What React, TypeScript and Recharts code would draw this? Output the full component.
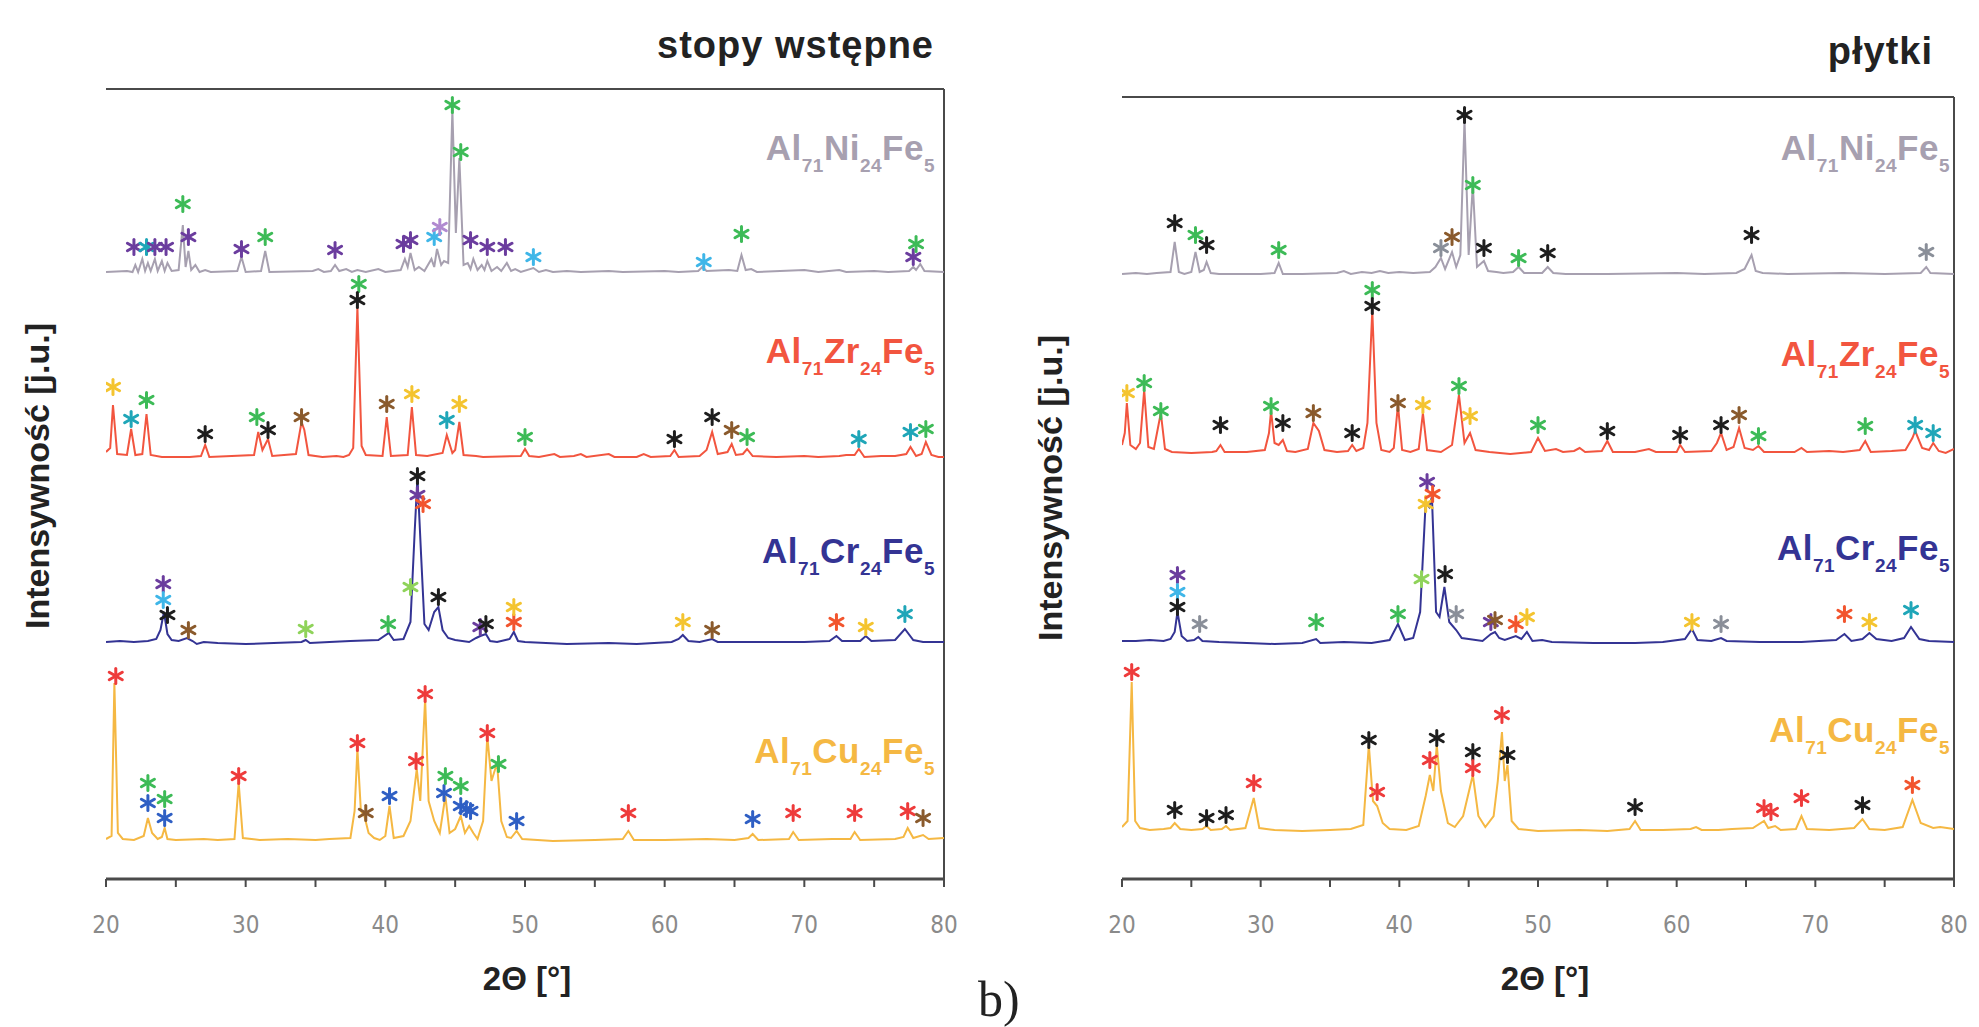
import { ComposedChart, Line, Scatter, XAxis, YAxis, ReferenceLine } from 'recharts'

type Pt = [number, number]
type Star = [number, number, string]

// kolory gwiazdek (fazy)
const STAR_COLORS: Record<string, string> = {
  green: '#3dbb57',
  lightgreen: '#8fd35a',
  purple: '#6b3d9e',
  lilac: '#b08ad0',
  cyan: '#3fb6e8',
  teal: '#1fa6b8',
  blue: '#2f5fc4',
  black: '#1e1e1e',
  yellow: '#f4c430',
  brown: '#8a5a2c',
  orange: '#f2552e',
  red: '#ee3b3b',
  grey: '#8a8f99',
}

const X_TICKS = [20, 25, 30, 35, 40, 45, 50, 55, 60, 65, 70, 75, 80]

// ---------- stopy wstępne ----------
const L_NI: Pt[] = [
  [20, 1], [21.5, 2], [21.9, 1], [22.1, 8], [22.3, 1], [22.6, 14], [22.8, 2], [23.0, 10], [23.2, 2], [23.5, 14],
  [23.7, 2], [24.0, 12], [24.2, 2], [24.4, 10], [24.7, 2], [25.2, 3], [25.5, 48], [25.7, 6], [25.9, 22], [26.1, 3],
  [26.4, 8], [26.7, 1], [27.1, 3], [27.5, 1], [29.4, 2], [29.7, 16], [30.0, 1], [31.1, 2], [31.4, 22], [31.7, 1],
  [34.8, 2], [35.2, 4], [35.6, 1], [36.1, 2], [36.4, 8], [36.7, 2], [37.2, 4], [37.6, 1], [38.0, 3], [38.6, 1],
  [39.5, 4], [40.0, 1], [41.1, 3], [41.4, 14], [41.6, 6], [41.8, 20], [42.1, 3], [42.4, 6], [42.8, 2], [43.3, 14],
  [43.5, 6], [43.7, 24], [44.0, 8], [44.2, 12], [44.5, 10], [44.8, 163], [45.05, 40], [45.3, 115], [45.6, 8], [45.9, 10],
  [46.1, 4], [46.3, 14], [46.6, 3], [46.9, 8], [47.1, 3], [47.3, 12], [47.6, 2], [48.0, 6], [48.3, 2], [48.7, 10],
  [49.0, 2], [49.3, 4], [49.7, 1], [50.6, 5], [51.0, 1], [51.5, 3], [52.0, 1], [53.0, 2], [54, 1], [56, 2],
  [57, 1], [60, 2], [61, 1], [62.4, 2], [62.7, 6], [63.0, 2], [64.6, 3], [65.2, 2], [65.5, 18], [65.8, 3],
  [66.2, 4], [66.6, 1], [70, 3], [71, 1], [72.5, 3], [73, 1], [75, 2], [76, 1], [77.5, 2], [77.8, 6],
  [78.0, 3], [78.3, 9], [78.6, 2], [80, 1],
]
const L_NI_STARS: Star[] = [
  [22.0, 26, 'purple'], [22.9, 26, 'teal'], [23.5, 26, 'purple'], [24.3, 26, 'purple'], [25.5, 69, 'green'],
  [25.9, 36, 'purple'], [29.7, 24, 'purple'], [31.4, 36, 'green'], [36.4, 23, 'purple'], [41.3, 29, 'purple'],
  [41.8, 33, 'purple'], [43.5, 36, 'cyan'], [43.9, 46, 'lilac'], [44.8, 168, 'green'], [45.4, 121, 'green'],
  [46.1, 33, 'purple'], [47.3, 26, 'purple'], [48.6, 26, 'purple'], [50.6, 16, 'cyan'], [62.8, 11, 'cyan'],
  [65.5, 39, 'green'], [77.8, 16, 'purple'], [78.0, 29, 'green'],
]

const L_ZR: Pt[] = [
  [20, 6], [20.3, 10], [20.5, 53], [20.8, 4], [21.5, 3], [21.8, 29], [22.1, 3], [22.6, 4], [22.9, 44], [23.2, 3],
  [24, 1], [26, 1], [26.8, 2], [27.1, 13], [27.4, 1], [29, 2], [30.6, 3], [30.9, 26], [31.2, 8], [31.6, 19],
  [31.9, 2], [33.6, 4], [34.0, 36], [34.2, 28], [34.5, 3], [35.5, 1], [36.5, 2], [37.0, 1], [37.4, 3], [37.7, 10],
  [38.0, 151], [38.3, 12], [38.6, 3], [39.8, 2], [40.1, 41], [40.4, 2], [41.6, 3], [41.9, 51], [42.2, 3], [43, 2],
  [44.1, 5], [44.4, 23], [44.8, 5], [45.0, 8], [45.3, 36], [45.6, 3], [46.5, 2], [47.0, 1], [49.7, 2], [50.0, 9],
  [50.3, 2], [51, 1], [52.1, 4], [52.5, 1], [53.5, 2], [54.0, 4], [54.4, 1], [56.0, 4], [56.4, 1], [58.0, 1],
  [58.5, 4], [59, 1], [60.4, 2], [60.7, 8], [61.0, 1], [62.5, 2], [63.0, 8], [63.4, 26], [63.8, 4], [64.5, 6],
  [64.8, 14], [65.1, 3], [65.6, 4], [65.9, 9], [66.3, 2], [68, 1], [70, 2], [71, 1], [72.5, 2], [73.0, 3],
  [73.6, 3], [73.9, 9], [74.3, 1], [75.5, 2], [76.5, 2], [77.3, 4], [77.6, 11], [78.0, 2], [78.4, 4], [78.7, 16],
  [79.1, 3], [79.6, 1], [80, 1],
]
const L_ZR_STARS: Star[] = [
  [20.5, 71, 'yellow'], [21.8, 39, 'teal'], [22.9, 58, 'green'], [27.1, 24, 'black'], [30.8, 41, 'green'],
  [31.6, 28, 'black'], [34.0, 41, 'brown'], [38.1, 174, 'green'], [38.0, 158, 'black'], [40.1, 54, 'brown'],
  [41.9, 64, 'yellow'], [44.4, 38, 'teal'], [45.3, 54, 'yellow'], [50.0, 21, 'green'], [60.7, 19, 'black'],
  [63.4, 41, 'black'], [64.8, 28, 'brown'], [65.9, 21, 'green'], [73.9, 19, 'teal'], [77.6, 26, 'teal'],
  [78.7, 29, 'green'],
]

const L_CR: Pt[] = [
  [20, 0], [21, 1], [22, 0], [23, 1], [23.6, 3], [23.9, 12], [24.15, 30], [24.4, 8], [24.7, 2], [25.2, 1],
  [25.8, 4], [26.2, 1], [26.5, -2], [27, 0], [28, -1], [30, -2], [32, -1], [34.0, 0], [34.3, 2], [34.6, -1],
  [36, 0], [37.5, 1], [39.5, 2], [40.25, 9], [40.6, 2], [41.3, 3], [41.8, 20], [42.1, 110], [42.3, 165], [42.55, 90],
  [42.8, 18], [43.1, 12], [43.5, 30], [43.8, 35], [44.1, 12], [44.5, 4], [45, 2], [46, 0], [46.5, 4], [46.8, 6],
  [47.2, 8], [47.5, 1], [48.0, 0], [48.9, 3], [49.2, 10], [49.5, 1], [50, 0], [53, -2], [56, -1], [58, -2],
  [60.5, 0], [61.0, 3], [61.3, 7], [61.7, 1], [62.5, 0], [63.4, 3], [63.8, 0], [66, 0], [70, 0], [71.8, 1],
  [72.3, 6], [72.7, 1], [74.0, 1], [74.4, 6], [74.8, 1], [76.5, 2], [77.2, 13], [77.8, 2], [78.5, 0], [80, 0],
]
const L_CR_STARS: Star[] = [
  [24.1, 58, 'purple'], [24.1, 42, 'cyan'], [24.4, 27, 'black'], [25.9, 12, 'brown'], [34.3, 13, 'lightgreen'],
  [40.2, 18, 'green'], [41.8, 55, 'lightgreen'], [42.3, 166, 'black'], [42.3, 147, 'purple'], [42.7, 138, 'orange'],
  [43.8, 45, 'black'], [46.8, 15, 'purple'], [47.2, 18, 'black'], [49.2, 20, 'orange'], [49.2, 35, 'yellow'],
  [61.3, 20, 'yellow'], [63.4, 12, 'brown'], [72.3, 20, 'orange'], [74.4, 15, 'yellow'], [77.2, 28, 'teal'],
]

const L_CU: Pt[] = [
  [20, 2], [20.4, 5], [20.6, 158], [20.85, 8], [21.2, 2], [22, 1], [22.7, 5], [23.0, 23], [23.3, 8], [23.7, 2],
  [24.0, 4], [24.2, 13], [24.4, 2], [25, 1], [27, 2], [28, 1], [29.2, 2], [29.5, 58], [29.8, 3], [31, 1],
  [33, 2], [35, 1], [36, 2], [37.5, 3], [37.8, 30], [38.0, 92], [38.25, 30], [38.5, 25], [38.8, 8], [39.2, 3],
  [39.6, 1], [40.0, 5], [40.3, 35], [40.6, 3], [41.3, 5], [41.8, 20], [42.25, 72], [42.5, 40], [42.85, 142], [43.1, 40],
  [43.5, 20], [43.9, 8], [44.3, 45], [44.6, 8], [45.0, 12], [45.4, 25], [45.7, 8], [46.0, 15], [46.3, 8], [46.6, 2],
  [47.0, 20], [47.3, 105], [47.6, 60], [48.0, 78], [48.3, 20], [48.7, 4], [49.0, 3], [49.4, 10], [49.8, 2], [52, 0],
  [55, 1], [57.0, 2], [57.4, 10], [57.8, 1], [60, 1], [63, 2], [65, 1], [66.0, 3], [66.3, 7], [66.7, 1],
  [68.9, 2], [69.2, 9], [69.6, 1], [72, 2], [73.3, 2], [73.6, 9], [74, 1], [76.5, 2], [77.1, 4], [77.4, 13],
  [77.8, 3], [78.5, 6], [78.9, 2], [80, 3],
]
const L_CU_STARS: Star[] = [
  [20.7, 165, 'red'], [23.0, 58, 'green'], [23.0, 38, 'blue'], [24.2, 42, 'green'], [24.2, 23, 'blue'],
  [29.5, 65, 'red'], [38.0, 98, 'red'], [38.6, 28, 'brown'], [40.3, 45, 'blue'], [42.2, 80, 'red'],
  [42.85, 147, 'red'], [44.2, 48, 'blue'], [44.3, 65, 'green'], [45.4, 55, 'green'], [45.4, 35, 'blue'],
  [45.8, 32, 'blue'], [46.1, 30, 'blue'], [47.3, 108, 'red'], [48.1, 77, 'green'], [49.4, 20, 'blue'],
  [57.4, 28, 'red'], [66.3, 22, 'blue'], [69.2, 28, 'red'], [73.6, 28, 'red'], [77.4, 30, 'red'],
  [78.5, 23, 'brown'],
]

// ---------- płytki ----------
const R_NI: Pt[] = [
  [20, 1], [21, 2], [21.8, 1], [22.5, 2], [23.5, 3], [23.8, 33], [24.1, 3], [24.5, 1], [25.0, 3], [25.3, 23],
  [25.6, 3], [25.9, 5], [26.1, 13], [26.4, 2], [27, 1], [30, 1], [31.0, 2], [31.3, 12], [31.6, 1], [33, 1],
  [35.5, 2], [36, 4], [36.5, 1], [37.3, 3], [38, 2], [38.6, 4], [39.2, 2], [40, 3], [41, 2], [42.2, 3],
  [42.6, 8], [43.0, 17], [43.3, 6], [43.8, 23], [44.1, 8], [44.4, 20], [44.7, 155], [45.0, 20], [45.3, 90], [45.6, 8],
  [46.1, 14], [46.4, 4], [47, 3], [47.5, 2], [48.2, 3], [48.6, 8], [49, 2], [50.3, 2], [50.7, 8], [51.1, 2],
  [52, 1], [55, 1], [60, 2], [62, 1], [64.3, 2], [64.9, 6], [65.4, 20], [65.7, 4], [66.2, 2], [68, 1],
  [72, 2], [75, 1], [77.6, 2], [78.0, 8], [78.3, 2], [80, 1],
]
const R_NI_STARS: Star[] = [
  [23.8, 52, 'black'], [25.3, 40, 'green'], [26.1, 30, 'black'], [31.3, 25, 'green'], [43.0, 27, 'grey'],
  [43.8, 38, 'brown'], [44.7, 160, 'black'], [45.3, 90, 'green'], [46.1, 27, 'black'], [48.6, 17, 'green'],
  [50.7, 22, 'black'], [65.4, 40, 'black'], [78.0, 23, 'grey'],
]

const R_ZR: Pt[] = [
  [20, 8], [20.2, 20], [20.35, 50], [20.6, 8], [21.0, 4], [21.3, 10], [21.6, 63], [21.9, 6], [22.3, 4], [22.8, 40],
  [23.1, 4], [23.6, 1], [25, 0], [26.5, 1], [26.8, 2], [27.1, 8], [27.4, 1], [29, 1], [30.3, 3], [30.6, 20],
  [30.75, 42], [31.0, 10], [31.3, 8], [31.6, 13], [31.9, 2], [32.5, 1], [33.4, 4], [33.8, 30], [34.2, 22], [34.6, 3],
  [35.5, 1], [36.3, 2], [36.6, 8], [36.9, 2], [37.4, 5], [37.7, 30], [38.05, 143], [38.35, 30], [38.7, 3], [39.3, 1],
  [39.6, 5], [39.9, 48], [40.2, 3], [40.8, 1], [41.4, 4], [41.7, 40], [42.0, 3], [43, 1], [43.8, 8], [44.3, 58],
  [44.7, 10], [45.1, 20], [45.5, 3], [46.5, 1], [48, -1], [49.5, 1], [50.0, 15], [50.5, 2], [51.3, 4], [51.8, 1],
  [52.6, 2], [53.0, 5], [53.4, 1], [54.6, 2], [55.0, 12], [55.4, 1], [57, 1], [58, 4], [58.5, 1], [60, 1],
  [60.25, 8], [60.6, 1], [62.5, 2], [62.9, 10], [63.2, 20], [63.6, 3], [64.1, 6], [64.5, 25], [64.9, 5], [65.5, 3],
  [65.9, 7], [66.3, 1], [68.5, 1], [69, 5], [69.4, 1], [71, 2], [72, 1], [73.2, 3], [73.6, 12], [74.0, 1],
  [75.5, 2], [76.5, 3], [77.0, 15], [77.2, 22], [77.7, 5], [78.2, 3], [78.5, 10], [78.9, 2], [79.4, 0], [80, 4],
]
const R_ZR_STARS: Star[] = [
  [20.35, 60, 'yellow'], [21.6, 70, 'green'], [22.8, 42, 'green'], [27.1, 28, 'black'], [30.75, 47, 'green'],
  [31.6, 30, 'black'], [33.8, 40, 'brown'], [36.6, 20, 'black'], [38.05, 163, 'green'], [38.05, 147, 'black'],
  [39.9, 50, 'brown'], [41.7, 48, 'yellow'], [44.3, 67, 'green'], [45.1, 37, 'yellow'], [50.0, 28, 'green'],
  [55.0, 22, 'black'], [60.25, 18, 'black'], [63.2, 28, 'black'], [64.5, 38, 'brown'], [65.9, 17, 'green'],
  [73.6, 27, 'green'], [77.2, 28, 'teal'], [78.5, 20, 'teal'],
]

const R_CR: Pt[] = [
  [20, 1], [21, 1], [22, 2], [23, 1], [23.5, 3], [23.8, 10], [24.0, 30], [24.3, 6], [24.7, 1], [25.2, 2],
  [25.5, 5], [25.8, 1], [27, 0], [29, -1], [31, -2], [33, -1], [34.0, 3], [34.3, -1], [36, 0], [38, -1],
  [39.3, 2], [39.9, 18], [40.4, 2], [41.0, 4], [41.5, 30], [41.9, 140], [42.15, 135], [42.35, 145], [42.65, 30], [42.9, 25],
  [43.25, 55], [43.6, 20], [44.1, 12], [44.5, 4], [45, 3], [46, 1], [46.6, 8], [46.9, 10], [47.2, 4], [47.6, 2],
  [48.4, 6], [48.8, 3], [49.2, 10], [49.6, 1], [50.3, 2], [51, 0], [54, -1], [57, -1], [59, 0], [60.6, 3],
  [61.1, 13], [61.5, 2], [62.5, 1], [63.2, 4], [63.6, 1], [66, 0], [69, 0], [71.5, 2], [72.1, 8], [72.6, 1],
  [73.4, 3], [73.9, 9], [74.4, 3], [75.5, 1], [76.4, 4], [76.9, 15], [77.5, 3], [78.2, 1], [80, 0],
]
const R_CR_STARS: Star[] = [
  [24.0, 67, 'purple'], [24.0, 50, 'cyan'], [24.0, 35, 'black'], [25.6, 18, 'grey'], [34.0, 20, 'green'],
  [39.9, 28, 'green'], [41.6, 63, 'lightgreen'], [41.9, 138, 'yellow'], [42.0, 160, 'purple'], [42.4, 148, 'orange'],
  [43.3, 68, 'black'], [44.1, 28, 'grey'], [46.6, 20, 'purple'], [46.9, 22, 'brown'], [48.4, 18, 'orange'],
  [49.2, 25, 'yellow'], [61.1, 20, 'yellow'], [63.2, 18, 'grey'], [72.1, 28, 'orange'], [73.9, 20, 'yellow'],
  [76.9, 32, 'teal'],
]

const R_CU: Pt[] = [
  [20, 4], [20.4, 10], [20.7, 149], [20.95, 10], [21.3, 3], [22, 1], [23, 2], [23.5, 3], [23.8, 8], [24.2, 2],
  [25, 1], [25.8, 2], [26.1, 5], [26.4, 1], [27.2, 2], [27.5, 5], [27.8, 1], [28.9, 3], [29.5, 33], [29.9, 3],
  [31, 1], [33, 0], [35, 1], [36.5, 2], [37.4, 6], [37.8, 86], [38.1, 30], [38.4, 25], [38.8, 8], [39.3, 2],
  [40.5, 1], [41.4, 5], [41.9, 35], [42.2, 56], [42.45, 40], [42.7, 86], [43.0, 40], [43.5, 8], [44, 4], [44.6, 15],
  [45.3, 56], [45.7, 15], [46.2, 4], [46.8, 15], [47.1, 50], [47.4, 99], [47.6, 50], [47.8, 66], [48.1, 10], [48.6, 2],
  [50, 0], [53, 1], [55, 0], [56.6, 2], [57.0, 10], [57.4, 1], [59, 1], [61, 2], [61.4, 4], [61.8, 1],
  [63, 1], [64, 2], [65.5, 3], [66.3, 10], [66.6, 3], [67.1, 5], [67.5, 1], [68.6, 2], [69.0, 15], [69.4, 2],
  [71, 1], [72.8, 3], [73.4, 12], [73.9, 2], [75, 1], [76.3, 4], [77.0, 31], [77.6, 8], [78.5, 3], [79, 4],
  [80, 2],
]
const R_CU_STARS: Star[] = [
  [20.7, 159, 'red'], [23.8, 21, 'black'], [26.1, 13, 'black'], [27.5, 16, 'black'], [29.5, 48, 'red'],
  [37.8, 91, 'black'], [38.4, 39, 'red'], [42.2, 71, 'red'], [42.7, 93, 'black'], [45.3, 79, 'black'],
  [45.3, 63, 'red'], [47.4, 116, 'red'], [47.8, 76, 'black'], [57.0, 24, 'black'], [66.3, 23, 'red'],
  [66.8, 19, 'red'], [69.0, 33, 'red'], [73.4, 26, 'black'], [77.0, 46, 'orange'],
]

const NI_COLOR = '#a7a0b0'
const ZR_COLOR = '#f2553f'
const CR_COLOR = '#343494'
const CU_COLOR = '#f5b843'

interface Pattern {
  points: Pt[]
  stars: Star[]
  offset: number
  color: string
}

const LEFT_PATTERNS: Pattern[] = [
  { points: L_NI, stars: L_NI_STARS, offset: 606, color: NI_COLOR },
  { points: L_ZR, stars: L_ZR_STARS, offset: 421, color: ZR_COLOR },
  { points: L_CR, stars: L_CR_STARS, offset: 237, color: CR_COLOR },
  { points: L_CU, stars: L_CU_STARS, offset: 38, color: CU_COLOR },
]
const RIGHT_PATTERNS: Pattern[] = [
  { points: R_NI, stars: R_NI_STARS, offset: 604, color: NI_COLOR },
  { points: R_ZR, stars: R_ZR_STARS, offset: 426, color: ZR_COLOR },
  { points: R_CR, stars: R_CR_STARS, offset: 237, color: CR_COLOR },
  { points: R_CU, stars: R_CU_STARS, offset: 48, color: CU_COLOR },
]

const FORMULAS = [
  { parts: ['Al', '71', 'Ni', '24', 'Fe', '5'], color: NI_COLOR },
  { parts: ['Al', '71', 'Zr', '24', 'Fe', '5'], color: ZR_COLOR },
  { parts: ['Al', '71', 'Cr', '24', 'Fe', '5'], color: CR_COLOR },
  { parts: ['Al', '71', 'Cu', '24', 'Fe', '5'], color: CU_COLOR },
]
const LEFT_LABEL_Y = [160, 363, 563, 763]
const RIGHT_LABEL_Y = [160, 366, 560, 742]

const SANS = "'Liberation Sans', Arial, sans-serif"
const NARROW = "'Liberation Sans Narrow', 'DejaVu Sans Condensed', 'Liberation Sans', sans-serif"
const AXIS = '#4a4a4a'

function Asterisk(props: any) {
  const { cx, cy, payload } = props
  if (cx == null || cy == null) return null
  const c = STAR_COLORS[payload.c] || '#000'
  const r = 7.5
  const dx = r * 0.87
  return (
    <g stroke={c} strokeWidth={3} strokeLinecap="round">
      <line x1={cx} y1={cy - r} x2={cx} y2={cy + r} />
      <line x1={cx - dx} y1={cy - r / 2} x2={cx + dx} y2={cy + r / 2} />
      <line x1={cx - dx} y1={cy + r / 2} x2={cx + dx} y2={cy - r / 2} />
    </g>
  )
}

interface PanelProps {
  patterns: Pattern[]
  yMax: number
  left: number
  width: number
  margin: { top: number; right: number; bottom: number; left: number }
}

function Panel({ patterns, yMax, left, width, margin }: PanelProps) {
  const lines = patterns.map((p) => p.points.map(([x, y]) => ({ x, y: y + p.offset })))
  const stars = patterns.flatMap((p) => p.stars.map(([x, h, c]) => ({ x, y: h + p.offset, c })))
  return (
    <div style={{ position: 'absolute', left, top: 0 }}>
      <ComposedChart width={width} height={1027} margin={margin}>
        <XAxis
          type="number"
          dataKey="x"
          domain={[20, 80]}
          ticks={X_TICKS}
          interval={0}
          allowDataOverflow
          tickFormatter={(v: number) => (v % 10 === 0 ? String(v) : '')}
          height={40}
          tickSize={8}
          tickMargin={29}
          tick={{ fontSize: 24, fill: '#8a8a8a', fontFamily: NARROW }}
          tickLine={{ stroke: AXIS, strokeWidth: 2 }}
          axisLine={{ stroke: AXIS, strokeWidth: 3 }}
        />
        <YAxis
          type="number"
          domain={[0, yMax]}
          allowDataOverflow
          width={0}
          tick={false}
          tickLine={false}
          axisLine={{ stroke: AXIS, strokeWidth: 2 }}
        />
        <ReferenceLine y={yMax} stroke={AXIS} strokeWidth={2} />
        <ReferenceLine x={80} stroke={AXIS} strokeWidth={2} />
        {patterns.map((p, i) => (
          <Line
            key={i}
            data={lines[i]}
            dataKey="y"
            type="linear"
            stroke={p.color}
            strokeWidth={2}
            dot={false}
            activeDot={false}
            isAnimationActive={false}
          />
        ))}
        <Scatter data={stars} dataKey="y" shape={Asterisk} isAnimationActive={false} />
      </ComposedChart>
    </div>
  )
}

function Formula({ parts, color, x, y }: { parts: string[]; color: string; x: number; y: number }) {
  return (
    <text x={x} y={y} textAnchor="end" fill={color} fontFamily={SANS} fontWeight="bold" fontSize={35} letterSpacing={0.5}>
      {parts.map((s, i) =>
        i % 2 === 1 ? (
          <tspan key={i} dy={12} fontSize={19}>
            {s}
          </tspan>
        ) : (
          <tspan key={i} dy={i === 0 ? 0 : -12}>
            {s}
          </tspan>
        )
      )}
    </text>
  )
}

export default function App() {
  return (
    <div style={{ position: 'absolute', left: 0, top: 0, width: 1979, height: 1027, background: '#fff', overflow: 'hidden' }}>
      <Panel
        patterns={LEFT_PATTERNS}
        yMax={790}
        left={0}
        width={990}
        margin={{ top: 89, right: 46, bottom: 108, left: 106 }}
      />
      <Panel
        patterns={RIGHT_PATTERNS}
        yMax={782}
        left={990}
        width={989}
        margin={{ top: 97, right: 25, bottom: 108, left: 132 }}
      />
      <svg width={1979} height={1027} style={{ position: 'absolute', left: 0, top: 0, pointerEvents: 'none' }}>
        <text x={934} y={58} textAnchor="end" fontFamily={SANS} fontWeight="bold" fontSize={38} letterSpacing={1} fill="#222">
          stopy wstępne
        </text>
        <text x={1933} y={64} textAnchor="end" fontFamily={SANS} fontWeight="bold" fontSize={38} letterSpacing={1} fill="#222">
          płytki
        </text>
        {FORMULAS.map((f, i) => (
          <Formula key={'l' + i} parts={f.parts} color={f.color} x={935} y={LEFT_LABEL_Y[i]} />
        ))}
        {FORMULAS.map((f, i) => (
          <Formula key={'r' + i} parts={f.parts} color={f.color} x={1950} y={RIGHT_LABEL_Y[i]} />
        ))}
        <text x={527} y={990} textAnchor="middle" fontFamily={SANS} fontWeight="bold" fontSize={33} fill="#222">
          2Θ [°]
        </text>
        <text x={1545} y={990} textAnchor="middle" fontFamily={SANS} fontWeight="bold" fontSize={33} fill="#222">
          2Θ [°]
        </text>
        <text
          transform="translate(49 476) rotate(-90)"
          textAnchor="middle"
          fontFamily={SANS}
          fontWeight="bold"
          fontSize={34}
          fill="#222"
        >
          Intensywność [j.u.]
        </text>
        <text
          transform="translate(1062 488) rotate(-90)"
          textAnchor="middle"
          fontFamily={SANS}
          fontWeight="bold"
          fontSize={34}
          fill="#222"
        >
          Intensywność [j.u.]
        </text>
        <text x={978} y={1016} fontFamily="'Liberation Serif', 'DejaVu Serif', serif" fontSize={50} fill="#222">
          b)
        </text>
      </svg>
    </div>
  )
}
